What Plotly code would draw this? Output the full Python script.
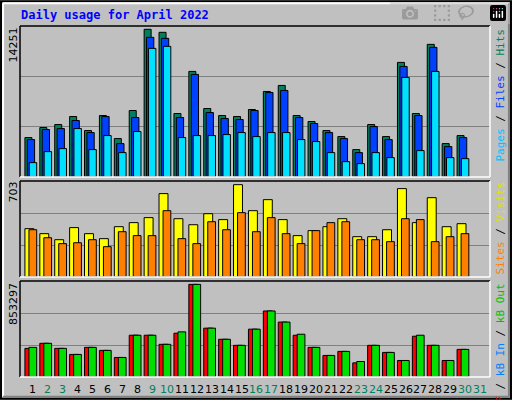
import plotly.graph_objects as go

# Daily figures, April 2022
days = list(range(1, 31))
hits = [3804, 4772, 5062, 5835, 4481, 5932, 3708, 6416, 14251, 13960,
        6126, 10188, 6609, 5932, 5835, 6512, 8253, 8834, 5932, 5352,
        4481, 3901, 2644, 5062, 3901, 11058, 6126, 12799, 3224, 3998]
files = [3611, 4578, 4675, 5449, 4288, 5835, 3224, 5739, 13476, 13380,
         5739, 9898, 6222, 5642, 5545, 6416, 8157, 8350, 5739, 5158,
         4288, 3708, 2354, 4868, 3611, 10671, 5932, 12509, 2934, 3804]
pages = [1386, 2450, 2740, 4675, 2644, 3998, 2354, 4385, 12412, 12606,
         3804, 3998, 3998, 4094, 4288, 3901, 4288, 4288, 3611, 3417,
         2354, 1483, 1290, 2354, 1870, 9608, 2547, 10188, 1870, 1773]
visits = [368, 330, 284, 376, 330, 292, 383, 414, 452, 635,
          444, 398, 482, 437, 703, 505, 589, 437, 315, 353,
          383, 444, 307, 307, 360, 673, 414, 604, 383, 406]
sites = [360, 299, 254, 261, 284, 231, 345, 315, 315, 505,
         292, 254, 421, 360, 490, 345, 452, 330, 254, 353,
         414, 421, 284, 284, 269, 444, 437, 269, 307, 330]
kb_f = [263755, 310300, 263755, 207901, 273064, 245137, 179974, 384772, 384772, 300991,
        403390, 853297, 449935, 347536, 291682, 440626, 608188, 505789, 384772, 273064,
        198592, 235828, 130326, 291682, 226519, 152047, 375463, 291682, 152047, 254446]
kb_out = [273064, 310300, 263755, 207901, 273064, 245137, 179974, 384772, 384772, 300991,
          415802, 853297, 449935, 347536, 291682, 440626, 608188, 505789, 394081, 273064,
          198592, 235828, 142738, 291682, 226519, 152047, 384772, 291682, 152047, 254446]
label_days = list(range(1, 32))
weekend = [2, 3, 9, 10, 16, 17, 23, 24, 30, 31]

BG = '#c0c0c0'
fig = go.Figure()


def bars(y, color, offset, width, axis):
    fig.add_trace(go.Bar(
        x=days, y=y, offset=offset, width=width,
        marker=dict(color=color, line=dict(color='black', width=1)),
        xaxis='x' + axis, yaxis='y' + axis,
        showlegend=False, hoverinfo='skip'))


bars(hits, '#00805c', -0.54, 0.47, '')
bars(files, '#0040ff', -0.38, 0.49, '')
bars(pages, '#00e0ff', -0.25, 0.5, '')
bars(visits, '#ffff00', -0.54, 0.6, '2')
bars(sites, '#ff8000', -0.27, 0.52, '2')
bars(kb_f, '#ff0000', -0.54, 0.6, '3')
bars(kb_out, '#00e000', -0.27, 0.52, '3')

xr = [0.13, 31.67]
xdom = [20 / 512, 490 / 512]


def yax(dom, top, anchor):
    return dict(domain=dom, range=[0, top], showticklabels=False, ticks='',
                tickvals=[top / 3, 2 * top / 3], gridcolor='#808080', gridwidth=1,
                zeroline=False, fixedrange=True, anchor=anchor)


def xax(anchor):
    return dict(domain=xdom, range=xr, showticklabels=False, showgrid=False,
                zeroline=False, anchor=anchor, fixedrange=True)


fig.update_layout(
    width=512, height=400, margin=dict(l=0, r=0, t=0, b=0),
    paper_bgcolor=BG, plot_bgcolor=BG, barmode='overlay',
    xaxis=xax('y'), xaxis2=xax('y2'), xaxis3=xax('y3'),
    yaxis=yax([0.5575, 0.935], 14570, 'x'),
    yaxis2=yax([0.3075, 0.5475], 731, 'x2'),
    yaxis3=yax([0.0575, 0.2975], 884300, 'x3'),
)

# frames
shapes = [
    dict(type='rect', xref='paper', yref='paper', x0=0.002, x1=0.998, y0=0.003, y1=0.997,
         line=dict(color='black', width=2)),
    dict(type='line', xref='paper', yref='paper', x0=0.006, x1=0.994, y0=0.992, y1=0.992,
         line=dict(color='white', width=2)),
    dict(type='line', xref='paper', yref='paper', x0=0.006, x1=0.006, y0=0.008, y1=0.992,
         line=dict(color='white', width=2)),
    dict(type='line', xref='paper', yref='paper', x0=0.006, x1=0.994, y0=0.008, y1=0.008,
         line=dict(color='#808080', width=2)),
    dict(type='line', xref='paper', yref='paper', x0=0.994, x1=0.994, y0=0.008, y1=0.992,
         line=dict(color='#808080', width=2)),
]
for y0, y1 in [(0.5575, 0.935), (0.3075, 0.5475), (0.0575, 0.2975)]:
    shapes.append(dict(type='line', xref='paper', yref='paper', x0=xdom[0], x1=xdom[0], y0=y0, y1=y1,
                       line=dict(color='black', width=1.5)))
    shapes.append(dict(type='line', xref='paper', yref='paper', x0=xdom[0], x1=xdom[1], y0=y1, y1=y1,
                       line=dict(color='black', width=1.5)))
    shapes.append(dict(type='line', xref='paper', yref='paper', x0=xdom[1], x1=xdom[1], y0=y0, y1=y1,
                       line=dict(color='white', width=1.5)))
    shapes.append(dict(type='line', xref='paper', yref='paper', x0=xdom[0], x1=xdom[1], y0=y0, y1=y0,
                       line=dict(color='white', width=1.5)))
fig.update_layout(shapes=shapes)

mono = 'DejaVu Sans Mono'
ann = [dict(text='<b>Daily usage for April 2022</b>', x=19 / 512, y=1 - 15 / 400, xref='paper', yref='paper',
            xanchor='left', yanchor='middle', showarrow=False, font=dict(family=mono, size=12, color='#0000ff'))]
for txt, ytop in [('14251', 26), ('703', 180), ('853297', 281)]:
    ann.append(dict(text=txt, x=13 / 512, y=1 - ytop / 400, xref='paper', yref='paper', textangle=-90,
                    xanchor='center', yanchor='top', showarrow=False,
                    font=dict(family='DejaVu Sans', size=11, color='black')))


def rlabel(parts, ytop):
    s = ' <span style="color:black">/</span> '.join(
        '<span style="color:%s">%s</span>' % (c, t) for t, c in parts)
    return dict(text=s, x=500 / 512, y=1 - ytop / 400, xref='paper', yref='paper', textangle=-90,
                xanchor='center', yanchor='top', showarrow=False, font=dict(family=mono, size=11))


ann.append(rlabel([('Pages', '#00c0ff'), ('Files', '#0040ff'), ('Hits', '#00805c')], 27))
ann.append(rlabel([('Sites', '#ff8000'), ('Visits', '#e0e000')], 180))
ann.append(rlabel([('kB F', '#ff0000'), ('kB In', '#0080ff'), ('kB Out', '#00c000')], 282))
for d in label_days:
    ann.append(dict(text=str(d), x=d, xref='x3', y=1 - 389 / 400, yref='paper', showarrow=False,
                    xanchor='center', yanchor='middle',
                    font=dict(family='DejaVu Sans', size=11,
                              color='#00805c' if d in weekend else 'black')))
fig.update_layout(annotations=ann)

fig.write_html("out.html", post_script="document.body.style.margin='0px';")
